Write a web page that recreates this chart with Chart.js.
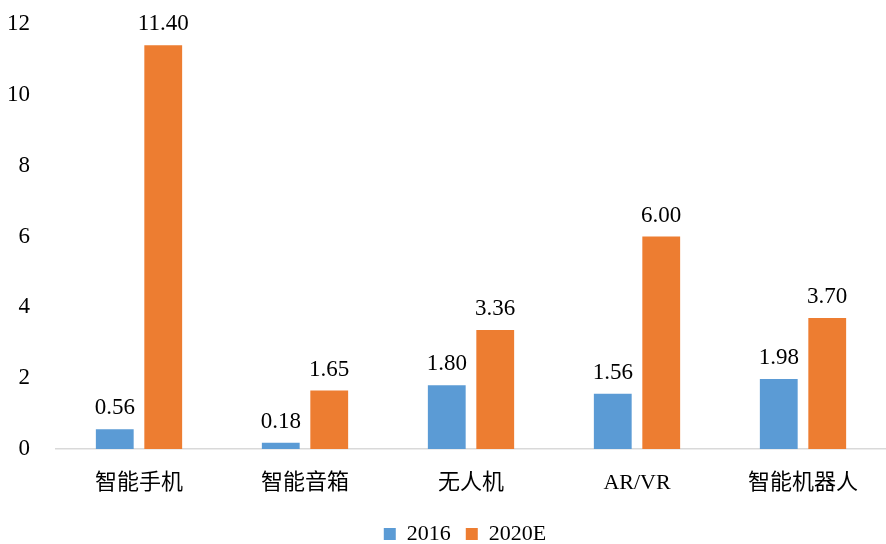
<!DOCTYPE html>
<html><head><meta charset="utf-8">
<script src="https://cdn.jsdelivr.net/npm/chart.js@4/dist/chart.umd.min.js"></script>
<style>html,body{margin:0;padding:0;background:#fff}#wrap{width:886px;height:544px}</style>
</head><body><div id="wrap"><canvas id="c" width="886" height="544"></canvas></div>
<script>
const categories = ['智能手机','智能音箱','无人机','AR/VR','智能机器人'];
const values2016 = [0.56, 0.18, 1.80, 1.56, 1.98];
const values2020E = [11.40, 1.65, 3.36, 6.00, 3.70];
const seriesNames = ['2016','2020E'];
const yTicks = [0,2,4,6,8,10,12];

const FONT = '"Liberation Serif", "Noto Sans CJK SC", serif';

const labelPlugin = {
  id:'labels',
  afterDatasetsDraw(chart){
    const ctx = chart.ctx;
    ctx.save();
    ctx.font = '23px ' + FONT;
    ctx.fillStyle = '#000';
    ctx.textAlign = 'center';
    ctx.textBaseline = 'alphabetic';
    chart.data.datasets.forEach((ds,i)=>{
      const meta = chart.getDatasetMeta(i);
      meta.data.forEach((el,j)=>{
        ctx.fillText(ds.data[j].toFixed(2), el.x, el.y - 15);
      });
    });
    ctx.restore();
  }
};

const LEGEND_H = 28;
const legendFix = {
  id:'legendFix',
  beforeUpdate(chart){
    const lg = chart.legend;
    if (lg && !lg._patched) {
      const orig = lg.fit;
      lg.fit = function(){ orig.call(this); this.height = LEGEND_H; };
      lg._patched = true;
    }
  },
  afterLayout(chart){
    const lg = chart.legend;
    const p = lg.options.labels.padding;
    const newTop = 534 - 11 - p;
    lg.top = newTop; lg.height = 544 - newTop; lg.bottom = 544;
    lg.left += 22; lg.right += 22;
  }
};

new Chart(document.getElementById('c'),{
  type:'bar',
  data:{
    labels:categories,
    datasets:[
      {label:seriesNames[0], data:values2016, backgroundColor:'#5B9BD5', barPercentage:0.78, categoryPercentage:0.584},
      {label:seriesNames[1], data:values2020E, backgroundColor:'#ED7D31', barPercentage:0.78, categoryPercentage:0.584}
    ]
  },
  options:{
    responsive:false,
    animation:false,
    layout:{padding:{top:24,right:0,left:0,bottom:0}},
    plugins:{
      legend:{
        position:'bottom',
        labels:{boxWidth:12,boxHeight:12,font:{family:FONT,size:22},color:'#000',padding:15}
      },
      tooltip:{enabled:false}
    },
    scales:{
      x:{
        afterFit(s){ s.height = 67; s.paddingLeft = 0; s.paddingRight = 0; },
        grid:{display:false,drawTicks:false},
        border:{display:true,color:'#D9D9D9',width:1.5},
        ticks:{font:{family:FONT,size:22},color:'#000',padding:21}
      },
      y:{
        min:0,max:12,
        afterBuildTicks(s){ s.ticks = yTicks.map(v=>({value:v})); },
        afterFit(s){ s.width = 56; s.paddingTop = 0; s.paddingBottom = 0; },
        grid:{display:false,drawTicks:false},
        border:{display:false},
        ticks:{font:{family:FONT,size:23},color:'#000',padding:26}
      }
    }
  },
  plugins:[labelPlugin, legendFix]
});
</script></body></html>
